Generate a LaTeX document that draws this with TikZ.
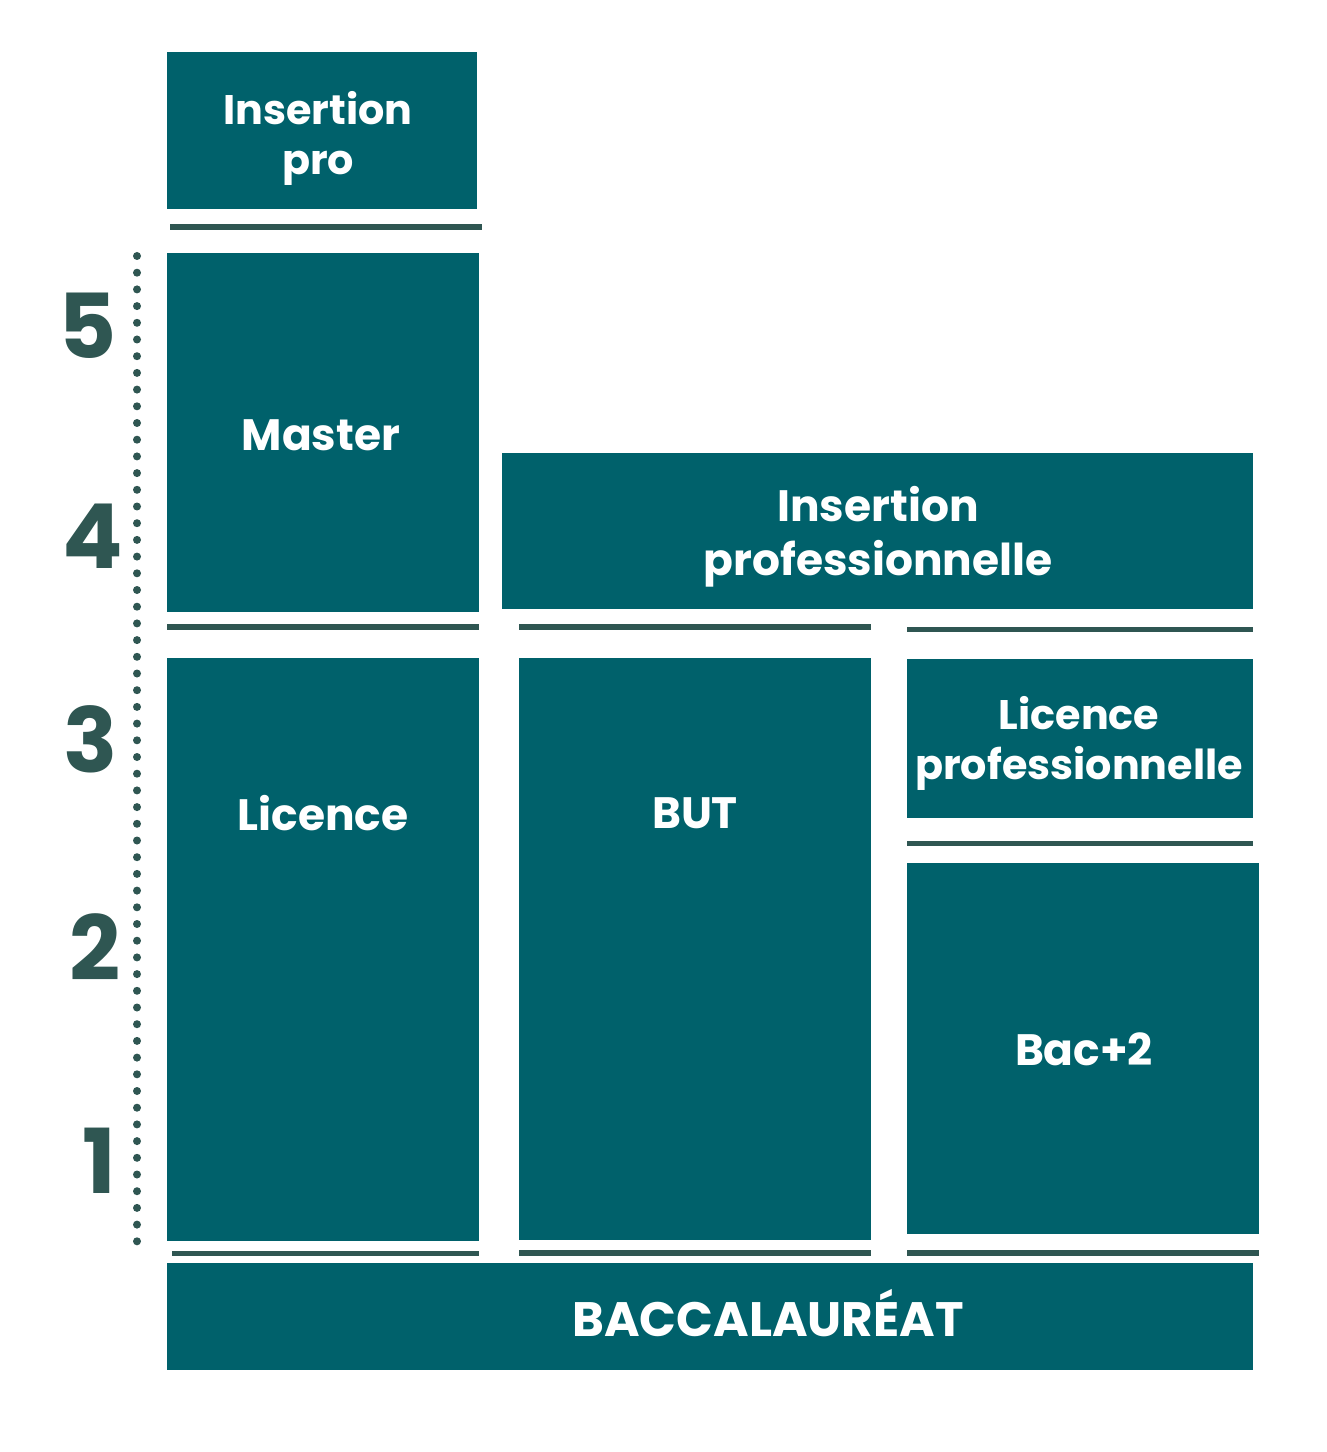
\documentclass[tikz,border=0pt]{standalone}
\usepackage{fontspec}
\setmainfont{Poppins}
\usepackage{tikz}

\definecolor{boxteal}{RGB}{0,97,107}
\definecolor{sepgreen}{RGB}{47,86,82}

\begin{document}
\begin{tikzpicture}[x=0.02cm,y=-0.02cm,
  label/.style={text=white,font=\bfseries\fontsize{25}{31}\selectfont,align=center,inner sep=0pt},
  smalllabel/.style={label,font=\bfseries\fontsize{23.5}{28.5}\selectfont},
  year/.style={text=sepgreen,font=\bfseries\fontsize{51}{51}\selectfont,inner sep=0pt}]
  \useasboundingbox[fill=white] (0,0) rectangle (1326,1452);
  % boxes
  \fill[boxteal] (167,52) rectangle (477,209);
  \fill[boxteal] (167,253) rectangle (479,612);
  \fill[boxteal] (167,658) rectangle (479,1241);
  \fill[boxteal] (519,658) rectangle (871,1240);
  \fill[boxteal] (502,453) rectangle (1253,609);
  \fill[boxteal] (907,659) rectangle (1253,818);
  \fill[boxteal] (907,863) rectangle (1259,1234);
  \fill[boxteal] (167,1263) rectangle (1253,1370);
  % separators
  \fill[sepgreen] (170,224) rectangle (482,230);
  \fill[sepgreen] (167,624) rectangle (479,630);
  \fill[sepgreen] (519,624) rectangle (871,630);
  \fill[sepgreen] (907,627) rectangle (1253,632);
  \fill[sepgreen] (907,841) rectangle (1253,846);
  \fill[sepgreen] (172,1251) rectangle (479,1256);
  \fill[sepgreen] (519,1250) rectangle (871,1256);
  \fill[sepgreen] (907,1250) rectangle (1259,1256);
  % years
  \foreach \i in {0,...,59} \fill[sepgreen] (137,256+\i*16.7) circle(0.08cm);
  \foreach \n/\x/\y in {5/88/326,4/93/536,3/91/739,2/95/947,1/99/1161}
    \node[year] (year\n) at (\x,\y) {\n};
  % labels
  \node[smalllabel] (inspro) at (318,138) {Insertion\\pro};
  \node[label] (master) at (321,435) {Master};
  \node[label] (inspro2) at (878,537) {Insertion\\professionnelle};
  \node[label] (licence) at (323,813) {Licence};
  \node[label] (but) at (695,813) {BUT};
  \node[smalllabel] (licpro) at (1079,743) {Licence\\professionnelle};
  \node[label] (bac2) at (1084,1049) {Bac+2};
  \node[label,font=\bfseries\fontsize{27.5}{31}\selectfont] (bac) at (768,1313) {BACCALAURÉAT};
\end{tikzpicture}
\end{document}
